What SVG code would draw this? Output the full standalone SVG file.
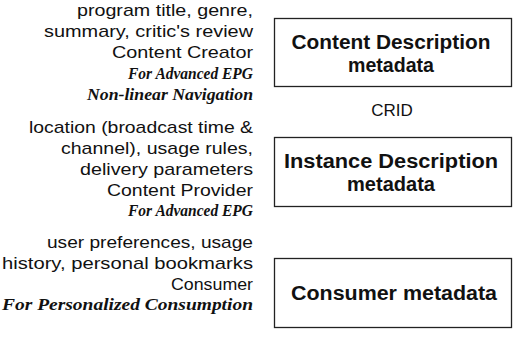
<svg xmlns="http://www.w3.org/2000/svg" width="513" height="341" viewBox="0 0 513 341">
<style>
.d{font-family:"Liberation Sans",Arial,sans-serif;font-size:17px;fill:#111;text-anchor:end}
.i{font-family:"Liberation Serif","Times New Roman",serif;font-size:16px;font-weight:bold;font-style:italic;fill:#111;text-anchor:end}
.b{font-family:"Liberation Sans",Arial,sans-serif;font-size:20px;font-weight:bold;fill:#111;text-anchor:middle}
.l{font-family:"Liberation Sans",Arial,sans-serif;font-size:17px;fill:#111;text-anchor:middle}
.box{fill:#fff;stroke:#222;stroke-width:1.3}
</style>
<rect width="513" height="341" fill="#fff"/>
<g id="content-desc-text">
<text class="d" x="253" y="16" textLength="176" lengthAdjust="spacingAndGlyphs">program title, genre,</text>
<text class="d" x="253" y="37" textLength="209" lengthAdjust="spacingAndGlyphs">summary, critic's review</text>
<text class="d" x="253" y="58" textLength="141" lengthAdjust="spacingAndGlyphs">Content Creator</text>
<text class="i" x="253" y="79" textLength="125" lengthAdjust="spacingAndGlyphs">For Advanced EPG</text>
<text class="i" x="253" y="100" textLength="166" lengthAdjust="spacingAndGlyphs">Non-linear Navigation</text>
</g>
<g id="content-desc">
<rect class="box" x="274.5" y="18.5" width="237" height="68"/>
<text class="b" x="391" y="49" textLength="199" lengthAdjust="spacingAndGlyphs">Content Description</text>
<text class="b" x="391" y="72" textLength="86" lengthAdjust="spacingAndGlyphs">metadata</text>
</g>
<g id="crid">
<text class="l" x="392" y="116">CRID</text>
</g>
<g id="instance-desc-text">
<text class="d" x="253" y="133" textLength="224" lengthAdjust="spacingAndGlyphs">location (broadcast time &amp;</text>
<text class="d" x="253" y="154" textLength="192" lengthAdjust="spacingAndGlyphs">channel), usage rules,</text>
<text class="d" x="253" y="175" textLength="173" lengthAdjust="spacingAndGlyphs">delivery parameters</text>
<text class="d" x="253" y="196" textLength="146" lengthAdjust="spacingAndGlyphs">Content Provider</text>
<text class="i" x="253" y="216" textLength="125" lengthAdjust="spacingAndGlyphs">For Advanced EPG</text>
</g>
<g id="instance-desc">
<rect class="box" x="274.5" y="137.5" width="237" height="69"/>
<text class="b" x="391" y="168" textLength="214" lengthAdjust="spacingAndGlyphs">Instance Description</text>
<text class="b" x="391" y="191" textLength="88" lengthAdjust="spacingAndGlyphs">metadata</text>
</g>
<g id="consumer-text">
<text class="d" x="253" y="248" textLength="206" lengthAdjust="spacingAndGlyphs">user preferences, usage</text>
<text class="d" x="253" y="269" textLength="251" lengthAdjust="spacingAndGlyphs">history, personal bookmarks</text>
<text class="d" x="253" y="290" textLength="82" lengthAdjust="spacingAndGlyphs">Consumer</text>
<text class="i" x="253" y="310" textLength="251" lengthAdjust="spacingAndGlyphs">For Personalized Consumption</text>
</g>
<g id="consumer">
<rect class="box" x="274.5" y="258.5" width="237" height="69"/>
<text class="b" x="394" y="300" textLength="206" lengthAdjust="spacingAndGlyphs">Consumer metadata</text>
</g>
<g id="connectors"/>
</svg>
